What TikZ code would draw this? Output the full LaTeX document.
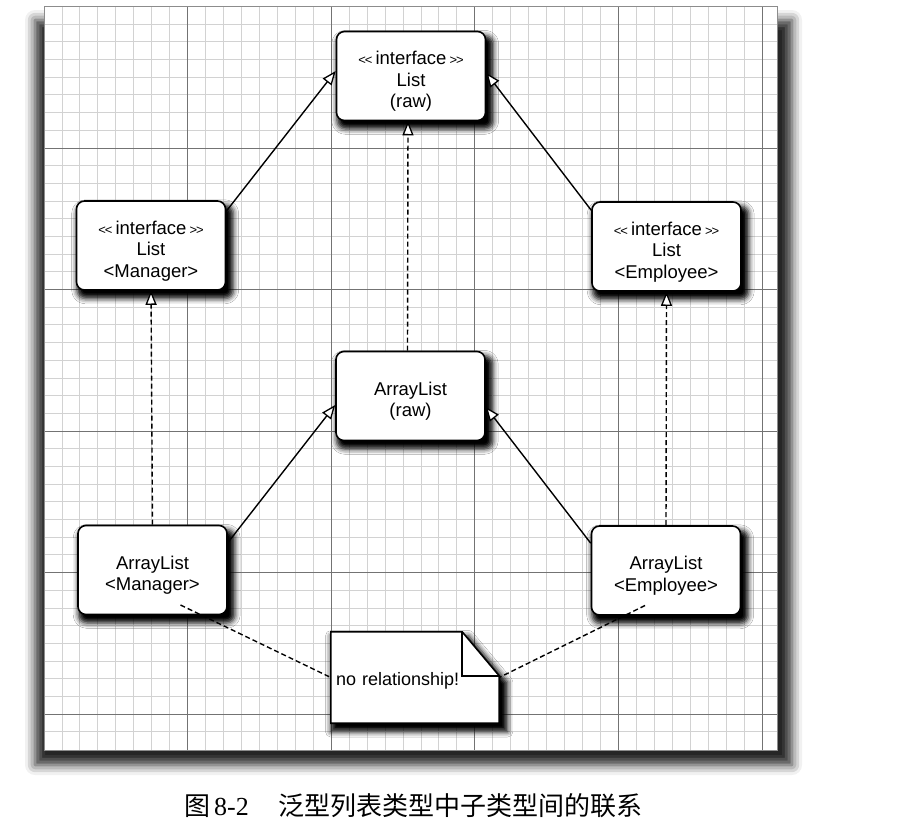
\documentclass[tikz,border=0pt]{standalone}
\usepackage{fontspec}
\setmainfont{Liberation Sans}
\newfontfamily\capserif{Liberation Serif}
\newfontfamily\cjk{Noto Sans CJK SC}
\usetikzlibrary{arrows.meta,shadows.blur,positioning}

\newcommand{\stereo}{{\fontsize{13}{13}\selectfont{<}\kern-1pt{<}}\,interface\,{\fontsize{13}{13}\selectfont{>}\kern-1pt{>}}}
\newcommand{\lift}{\rule{0pt}{24pt}}

\tikzset{
  fineline/.style={gray!35, line width=0.9pt},
  majorline/.style={black!55, line width=1pt},
  boxshadow/.style={blur shadow={shadow xshift=4pt, shadow yshift=-6pt, shadow scale=1.05, shadow blur radius=5pt, shadow opacity=100}},
  umlbox/.style={draw, line width=1.6pt, rounded corners=8pt, fill=white,
    minimum width=149pt, minimum height=89pt, align=center,
    font=\fontsize{18.5}{21.5}\selectfont, boxshadow},
  notebox/.style={minimum width=168pt, minimum height=91pt, text width=158pt,
    inner sep=5pt, align=left, font=\fontsize{18}{21.5}\selectfont},
  notedraw/.style={draw, line width=1.6pt, fill=white, line join=miter, boxshadow},
  inherit/.style={line width=1.4pt, -{Triangle[width=11pt,length=14pt,fill=white,line width=1.3pt]}},
  realize/.style={inherit, dash pattern=on 5pt off 3pt},
  noteline/.style={line width=1.4pt, dash pattern=on 5pt off 3pt}
}

\begin{document}
\begin{tikzpicture}[x=1pt,y=-1pt]
  \useasboundingbox (0,0) rectangle (920,832);

  % grid paper
  \path[blur shadow={shadow xshift=0pt, shadow yshift=0pt, shadow blur radius=10pt, shadow opacity=85}] (35,20) rectangle (792,765);
  \fill[white] (44,6.5) rectangle (777,750);
  \foreach \i in {1,...,40}
    \draw[fineline] ({44+17.95*\i},6.5) -- ({44+17.95*\i},750);
  \foreach \j in {1,...,41}
    \draw[fineline] (44,{6.5+17.69*\j}) -- (777,{6.5+17.69*\j});
  \foreach \i in {1,...,5}
    \draw[majorline] ({44+143.6*\i},6.5) -- ({44+143.6*\i},750);
  \foreach \j in {1,...,5}
    \draw[majorline] (44,{6.5+141.5*\j}) -- (777,{6.5+141.5*\j});
  \draw[black!45, line width=0.8pt] (44,6.5) rectangle (777,750);

  % classes
  \node[umlbox] (lraw) at (411,76) {\lift\stereo\\List\\(raw)};
  \node[umlbox] (lmgr) at (151,245.5) {\lift\stereo\\List\\<Manager>};
  \node[umlbox] (lemp) at (666.5,246.5) {\lift\stereo\\List\\<Employee>};
  \node[umlbox] (araw) at (410.5,396) {\lift ArrayList\\(raw)};
  \node[umlbox] (amgr) at (152.5,570) {\lift ArrayList\\<Manager>};
  \node[umlbox] (aemp) at (666,570.5) {\lift ArrayList\\<Employee>};

  % note
  \node[notebox] (note) at (415,677.5) {};
  \draw[notedraw] (note.north west) -- ([xshift=-37pt]note.north east)
    -- ([yshift=-44pt]note.north east) -- (note.south east) -- (note.south west) -- cycle;
  \draw[line width=1.6pt] ([xshift=-37pt]note.north east) |- ([yshift=-44pt]note.north east);
  \node[notebox] at (note.center) {\rule{0pt}{19pt}no relationship!};

  % relations
  \draw[realize] (amgr.north) -- (lmgr.south);
  \draw[realize] (aemp.north) -- (lemp.south);
  \draw[realize] ([xshift=-3pt]araw.north) -- ([xshift=-3pt]lraw.south);
  \draw[inherit] ([yshift=-11pt]lmgr.north east) -- ([yshift=5pt]lraw.west);
  \draw[inherit] ([yshift=-9pt]lemp.north west) -- ([yshift=3pt]lraw.east);
  \draw[inherit] ([yshift=-18pt]amgr.north east) -- ([yshift=-9pt]araw.west);
  \draw[inherit] ([yshift=-18pt]aemp.north west) -- ([yshift=-11pt]araw.east);
  \draw[noteline] ([xshift=28pt,yshift=-35pt]amgr.center) -- (note.west);
  \draw[noteline] ([xshift=-21pt,yshift=-35pt]aemp.center) -- (note.east);

  % caption
  \node[anchor=base west, inner sep=0pt, font=\fontsize{26}{30}\selectfont] (cap) at (184,815)
    {{\cjk 图}\hspace{4pt}{\capserif 8-2}\hspace{30pt}{\cjk 泛型列表类型中子类型间的联系}};
\end{tikzpicture}
\end{document}
